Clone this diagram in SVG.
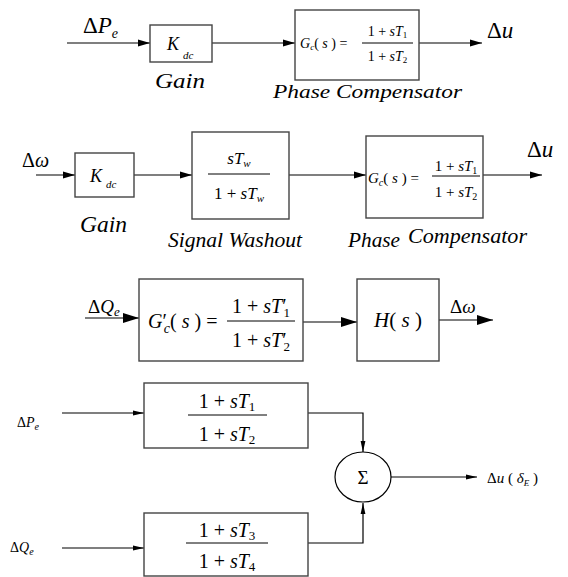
<svg xmlns="http://www.w3.org/2000/svg" width="568" height="577" viewBox="0 0 568 577">
<style>
.box{fill:#fff;stroke:#444;stroke-width:1.4}
.ln{fill:none;stroke:#000;stroke-width:1.2}
.bar{stroke:#000;stroke-width:1}
</style>
<defs>
<marker id="a" markerUnits="userSpaceOnUse" markerWidth="12" markerHeight="8" refX="12" refY="4" orient="auto"><path d="M0,0.5 L12,4 L0,7.5 z" fill="#000"/></marker>
<marker id="b" markerUnits="userSpaceOnUse" markerWidth="16" markerHeight="11" refX="16" refY="5.5" orient="auto"><path d="M0,0.5 L16,5.5 L0,10.5 z" fill="#000"/></marker>
<marker id="c" markerUnits="userSpaceOnUse" markerWidth="11" markerHeight="6" refX="11" refY="3" orient="auto"><path d="M0,0.6 L11,3 L0,5.4 z" fill="#000"/></marker>
</defs>

<g id="connectors">
<line class="ln" x1="67" y1="43" x2="150" y2="43" marker-end="url(#a)"/>
<line class="ln" x1="212" y1="43" x2="295" y2="43" marker-end="url(#a)"/>
<line class="ln" x1="419" y1="43" x2="482" y2="43" marker-end="url(#a)"/>

<line class="ln" x1="36" y1="175" x2="75" y2="175" marker-end="url(#a)"/>
<line class="ln" x1="134" y1="175" x2="192" y2="175" marker-end="url(#a)"/>
<line class="ln" x1="289" y1="175" x2="366" y2="175" marker-end="url(#a)"/>
<line class="ln" x1="483" y1="175" x2="542" y2="175" marker-end="url(#a)"/>

<line class="ln" x1="85" y1="318" x2="139" y2="318" marker-end="url(#b)"/>
<line class="ln" x1="303" y1="322" x2="357" y2="322" marker-end="url(#b)"/>
<line class="ln" x1="439" y1="320" x2="493" y2="320" marker-end="url(#b)"/>

<line class="ln" x1="62" y1="413" x2="144" y2="413" marker-end="url(#c)"/>
<line class="ln" x1="62" y1="548" x2="144" y2="548" marker-end="url(#c)"/>
<polyline class="ln" points="308,413 363,413 363,452" marker-end="url(#c)"/>
<polyline class="ln" points="308,543 363,543 363,503" marker-end="url(#c)"/>
<line class="ln" x1="391" y1="477" x2="477" y2="477" marker-end="url(#c)"/>
</g>

<g id="labels1">
<text font-family="Liberation Serif" x="83" y="33" font-size="23">Δ<tspan font-style="italic">P</tspan><tspan font-style="italic" font-size="14" dy="5">e</tspan></text>
<text font-family="Liberation Serif" x="487" y="38" font-size="23">Δ<tspan font-style="italic">u</tspan></text>
<text font-family="Liberation Serif" font-style="italic" x="155" y="88" font-size="22" textLength="50" lengthAdjust="spacingAndGlyphs">Gain</text>
<text font-family="Liberation Serif" font-style="italic" x="273" y="98" font-size="19" textLength="189" lengthAdjust="spacingAndGlyphs">Phase Compensator</text>
</g>
<g id="gain1">
<rect class="box" x="150" y="25" width="62" height="37"/>
<text font-family="Liberation Serif" font-style="italic" x="167" y="50" font-size="18">K</text>
<text font-family="Liberation Serif" font-style="italic" x="183" y="59" font-size="11">dc</text>
</g>
<g id="phase1">
<rect class="box" x="295" y="10" width="124" height="70"/>
<text font-family="Liberation Serif" x="300" y="48" font-size="14"><tspan font-style="italic">G</tspan><tspan font-style="italic" font-size="9" dy="2">c</tspan><tspan dy="-2">( </tspan><tspan font-style="italic">s</tspan> ) =</text>
<text font-family="Liberation Serif" x="387.5" y="36" font-size="14" text-anchor="middle">1 + <tspan font-style="italic">sT</tspan><tspan font-size="9" dy="2">1</tspan></text>
<line class="bar" x1="362" y1="43" x2="413" y2="43"/>
<text font-family="Liberation Serif" x="387.5" y="61" font-size="14" text-anchor="middle">1 + <tspan font-style="italic">sT</tspan><tspan font-size="9" dy="2">2</tspan></text>
</g>

<g id="labels2">
<text font-family="Liberation Serif" x="22" y="167" font-size="20">Δ<tspan font-style="italic">ω</tspan></text>
<text font-family="Liberation Serif" x="527" y="157" font-size="23">Δ<tspan font-style="italic">u</tspan></text>
<text font-family="Liberation Serif" font-style="italic" x="80" y="232" font-size="23" textLength="47" lengthAdjust="spacingAndGlyphs">Gain</text>
<text font-family="Liberation Serif" font-style="italic" x="168" y="247" font-size="20" textLength="134" lengthAdjust="spacingAndGlyphs">Signal  Washout</text>
<text font-family="Liberation Serif" font-style="italic" x="348" y="247" font-size="21" textLength="52" lengthAdjust="spacingAndGlyphs">Phase</text>
<text font-family="Liberation Serif" font-style="italic" x="408" y="243" font-size="21" textLength="119" lengthAdjust="spacingAndGlyphs">Compensator</text>
</g>
<g id="gain2">
<rect class="box" x="75" y="153" width="59" height="44"/>
<text font-family="Liberation Serif" font-style="italic" x="90" y="182" font-size="18">K</text>
<text font-family="Liberation Serif" font-style="italic" x="106" y="188" font-size="11">dc</text>
</g>
<g id="washout">
<rect class="box" x="192" y="132" width="97" height="87"/>
<text font-family="Liberation Serif" x="239" y="164" font-size="17" text-anchor="middle"><tspan font-style="italic">sT</tspan><tspan font-style="italic" font-size="11" dy="3">w</tspan></text>
<line class="bar" x1="208" y1="174" x2="270" y2="174"/>
<text font-family="Liberation Serif" x="239" y="199" font-size="17" text-anchor="middle">1 + <tspan font-style="italic">sT</tspan><tspan font-style="italic" font-size="11" dy="3">w</tspan></text>
</g>
<g id="phase2">
<rect class="box" x="366" y="136" width="117" height="82"/>
<text font-family="Liberation Serif" x="368" y="183" font-size="15"><tspan font-style="italic">G</tspan><tspan font-style="italic" font-size="10" dy="3">c</tspan><tspan dy="-3">( </tspan><tspan font-style="italic">s</tspan> ) =</text>
<text font-family="Liberation Serif" x="456" y="171" font-size="15" text-anchor="middle">1 + <tspan font-style="italic">sT</tspan><tspan font-size="10" dy="3">1</tspan></text>
<line class="bar" x1="432" y1="176" x2="480" y2="176"/>
<text font-family="Liberation Serif" x="456" y="197" font-size="15" text-anchor="middle">1 + <tspan font-style="italic">sT</tspan><tspan font-size="10" dy="3">2</tspan></text>
</g>

<g id="labels3">
<text font-family="Liberation Serif" x="88" y="313" font-size="19">Δ<tspan font-style="italic">Q</tspan><tspan font-style="italic" font-size="13" dy="3">e</tspan></text>
<text font-family="Liberation Serif" x="450" y="313" font-size="19">Δ<tspan font-style="italic">ω</tspan></text>
</g>
<g id="phase3">
<rect class="box" x="139" y="279" width="164" height="82"/>
<text font-family="Liberation Serif" x="148" y="328" font-size="20"><tspan font-style="italic">G</tspan>′<tspan font-style="italic" font-size="14" dx="-3" dy="5">c</tspan><tspan dy="-5">( </tspan><tspan font-style="italic">s</tspan> ) =</text>
<text font-family="Liberation Serif" x="261" y="313" font-size="20" text-anchor="middle">1 + <tspan font-style="italic">sT</tspan>′<tspan font-size="13" dx="-3" dy="4">1</tspan></text>
<line class="bar" x1="227" y1="321" x2="295" y2="321"/>
<text font-family="Liberation Serif" x="261" y="347" font-size="20" text-anchor="middle">1 + <tspan font-style="italic">sT</tspan>′<tspan font-size="13" dx="-3" dy="4">2</tspan></text>
</g>
<g id="h">
<rect class="box" x="357" y="279" width="82" height="82"/>
<text font-family="Liberation Serif" x="398" y="327" font-size="21" text-anchor="middle"><tspan font-style="italic">H</tspan>( <tspan font-style="italic">s</tspan> )</text>
</g>

<g id="labels4">
<text font-family="Liberation Serif" x="17" y="427" font-size="14">Δ<tspan font-style="italic">P</tspan><tspan font-style="italic" font-size="10" dy="3">e</tspan></text>
<text font-family="Liberation Serif" x="10" y="552" font-size="14">Δ<tspan font-style="italic">Q</tspan><tspan font-style="italic" font-size="10" dy="3">e</tspan></text>
<text font-family="Liberation Serif" x="487" y="483" font-size="15">Δ<tspan font-style="italic">u</tspan> ( <tspan font-style="italic">δ</tspan><tspan font-style="italic" font-size="9" dy="3">E</tspan><tspan dy="-3"> )</tspan></text>
</g>
<g id="tf1">
<rect class="box" x="144" y="383" width="164" height="65"/>
<text font-family="Liberation Serif" x="227" y="408" font-size="20" text-anchor="middle">1 + <tspan font-style="italic">sT</tspan><tspan font-size="13" dy="3">1</tspan></text>
<line class="bar" x1="188" y1="415" x2="267" y2="415"/>
<text font-family="Liberation Serif" x="227" y="441" font-size="20" text-anchor="middle">1 + <tspan font-style="italic">sT</tspan><tspan font-size="13" dy="3">2</tspan></text>
</g>
<g id="tf2">
<rect class="box" x="144" y="513" width="164" height="63"/>
<text font-family="Liberation Serif" x="227" y="537" font-size="20" text-anchor="middle">1 + <tspan font-style="italic">sT</tspan><tspan font-size="13" dy="3">3</tspan></text>
<line class="bar" x1="186" y1="543" x2="268" y2="543"/>
<text font-family="Liberation Serif" x="227" y="568" font-size="20" text-anchor="middle">1 + <tspan font-style="italic">sT</tspan><tspan font-size="13" dy="3">4</tspan></text>
</g>
<g id="sum">
<ellipse cx="363" cy="477" rx="28" ry="25" fill="#fff" stroke="#000" stroke-width="1.2"/>
<text font-family="Liberation Serif" x="363" y="484" font-size="19" text-anchor="middle">Σ</text>
</g>
</svg>
